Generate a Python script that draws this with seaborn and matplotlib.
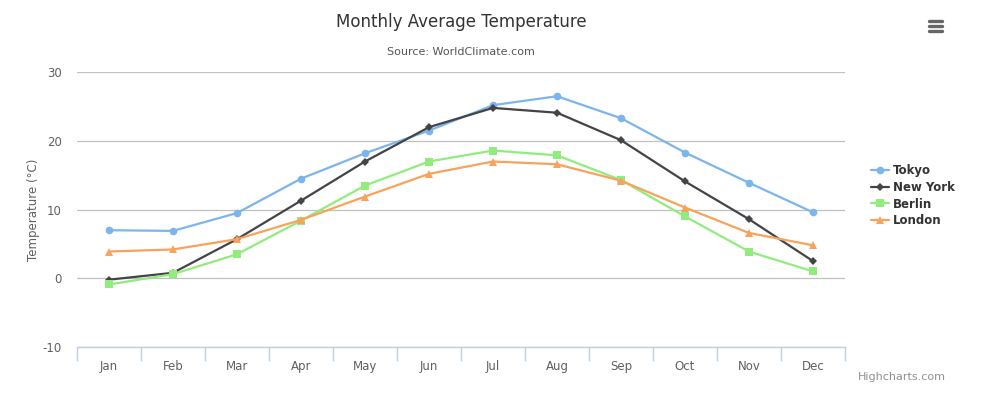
import matplotlib.pyplot as plt
import numpy as np
import pandas as pd
import seaborn as sns
from matplotlib.lines import Line2D

MONTHS = ["Jan", "Feb", "Mar", "Apr", "May", "Jun",
          "Jul", "Aug", "Sep", "Oct", "Nov", "Dec"]
TOKYO = [7.0, 6.9, 9.5, 14.5, 18.2, 21.5, 25.2, 26.5, 23.3, 18.3, 13.9, 9.6]
NEW_YORK = [-0.2, 0.8, 5.7, 11.3, 17.0, 22.0, 24.8, 24.1, 20.1, 14.1, 8.6, 2.5]
BERLIN = [-0.9, 0.6, 3.5, 8.4, 13.5, 17.0, 18.6, 17.9, 14.3, 9.0, 3.9, 1.0]
LONDON = [3.9, 4.2, 5.7, 8.5, 11.9, 15.2, 17.0, 16.6, 14.2, 10.3, 6.6, 4.8]
CITIES = ["Tokyo", "New York", "Berlin", "London"]
Y_TICKS = [-10, 0, 10, 20, 30]

COLORS = {"Tokyo": "#7cb5ec", "New York": "#434348",
          "Berlin": "#90ed7d", "London": "#f7a35c"}
MARKERS = {"Tokyo": "o", "New York": "D", "Berlin": "s", "London": "^"}
MARKER_SIZE = {"Tokyo": 5.5, "New York": 4.5, "Berlin": 5.5, "London": 6}

sns.set_theme(style="white")
plt.rcParams["font.family"] = ["DejaVu Sans"]

df = pd.DataFrame({
    "month": np.arange(len(MONTHS)),
    "Tokyo": TOKYO,
    "New York": NEW_YORK,
    "Berlin": BERLIN,
    "London": LONDON,
})
long_df = df.melt(id_vars="month", var_name="city", value_name="temp")

fig = plt.figure(figsize=(9.91, 3.96), dpi=100)
ax = fig.add_axes([0.0777, 0.1237, 0.775, 0.694])

for c in CITIES:
    sub = long_df[long_df["city"] == c]
    sns.lineplot(data=sub, x="month", y="temp", ax=ax, color=COLORS[c],
                 marker=MARKERS[c], markersize=MARKER_SIZE[c],
                 markeredgewidth=0, linewidth=1.6, label=c, zorder=3)

ax.set_xlim(-0.5, 11.5)
ax.set_ylim(-10, 30)
ax.set_yticks(Y_TICKS)
ax.set_yticklabels([str(v) for v in Y_TICKS], color="#606060", fontsize=8.5)
ax.yaxis.grid(True, color="#C0C0C0", linewidth=0.9)
ax.set_axisbelow(True)
ax.tick_params(axis="y", length=0, pad=11)

ax.set_xticks(np.arange(-0.5, 12, 1))
ax.set_xticklabels([])
ax.set_xticks(np.arange(12), minor=True)
ax.set_xticklabels(MONTHS, minor=True, color="#606060", fontsize=8.5)
ax.tick_params(axis="x", which="major", direction="out", length=10,
               color="#C0D0E0", width=1, bottom=True)
ax.tick_params(axis="x", which="minor", length=0, pad=9)

for side in ["top", "right", "left"]:
    ax.spines[side].set_visible(False)
ax.spines["bottom"].set_color("#C0D0E0")
ax.spines["bottom"].set_linewidth(1)

ax.set_xlabel("")
ax.set_ylabel("Temperature (°C)", color="#606060", fontsize=8.5, labelpad=2)

handles = [Line2D([0], [0], color=COLORS[c], marker=MARKERS[c],
                  markersize=MARKER_SIZE[c], markeredgewidth=0, linewidth=1.6)
           for c in CITIES]
leg = fig.legend(handles, CITIES, loc="center left", bbox_to_anchor=(0.868, 0.506),
                 frameon=False, handlelength=1.5, handletextpad=0.4,
                 labelspacing=0.33, prop={"weight": "bold", "size": 8.5})
for t in leg.get_texts():
    t.set_color("#333333")
if ax.get_legend() is not None:
    ax.get_legend().remove()

fig.text(0.465, 0.944, "Monthly Average Temperature", ha="center", va="center",
         fontsize=12, color="#333333")
fig.text(0.465, 0.869, "Source: WorldClimate.com", ha="center", va="center",
         fontsize=8, color="#555555")
fig.text(0.91, 0.048, "Highcharts.com", ha="center", va="center",
         fontsize=8, color="#909090")

# export menu icon
for yy in [0.921, 0.934, 0.947]:
    fig.add_artist(Line2D([0.9375, 0.951], [yy, yy], color="#666666",
                          linewidth=2.4, solid_capstyle="round"))

fig.savefig("out.png", dpi=100)
